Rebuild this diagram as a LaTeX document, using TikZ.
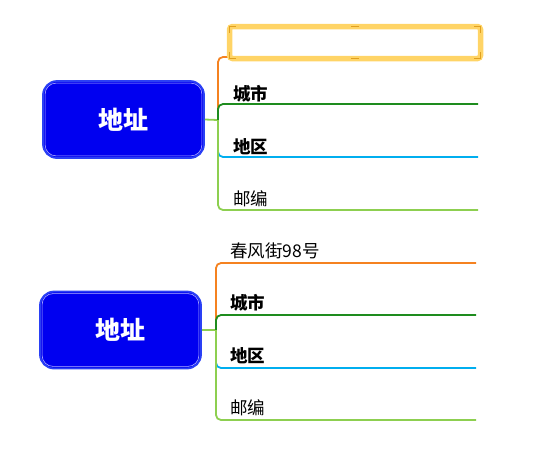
\documentclass[tikz,border=0pt]{standalone}
\usepackage{fontspec}
\setmainfont{Noto Sans CJK SC}
\begin{document}
\begin{tikzpicture}[x=1pt,y=-1pt,
  rootbox/.style={rounded corners=14pt,fill=rootblue,draw=rimblue,line width=1.8pt,
    minimum width=161pt,minimum height=77pt,inner sep=0pt,
    font=\fontsize{25}{27}\selectfont\bfseries,text=white},
  lab/.style={anchor=base west,inner sep=0pt,font=\fontsize{17.5}{19}\selectfont},
  labb/.style={lab,font=\fontsize{17.5}{19}\selectfont\bfseries},
  br/.style={line width=1.8pt,rounded corners=5pt}]
\definecolor{rootblue}{HTML}{0000F0}
\definecolor{rimblue}{HTML}{2A40F5}
\definecolor{cOr}{HTML}{F58220}
\definecolor{cDg}{HTML}{1E8C1E}
\definecolor{cBl}{HTML}{00AEEF}
\definecolor{cLg}{HTML}{8DCF50}
\definecolor{selY}{HTML}{FFD466}
\definecolor{selD}{HTML}{E0A020}
\useasboundingbox (0,0) rectangle (548,451);
% ---------- top group ----------
\node[rootbox] (r1) at (123.5,119.5) {地址};
\draw[white!70!blue,line width=0.6pt,rounded corners=11pt] ([shift={(3,-3)}]r1.south west) rectangle ([shift={(-3,3)}]r1.north east);
\coordinate (j1) at (218,120);
\coordinate (a1) at (478,57);
\coordinate (b1) at (478,104);
\coordinate (c1) at (478,157);
\coordinate (d1) at (478,210);
\draw[cLg,line width=1.8pt] (r1.east) -- (j1);
\draw[br,cOr] (j1) |- (a1);
\draw[br,cDg] (j1) |- (b1);
\draw[br,cBl] (j1) |- (c1);
\draw[br,cLg] (j1) |- (d1);
\node[labb] (l1b) at (233,100) {城市};
\node[labb] (l1c) at (233,153) {地区};
\node[lab] (l1d) at (233,205) {邮编};
% selection box
\node[draw=selY,line width=5.5pt,rounded corners=3pt,minimum width=251pt,minimum height=32pt,inner sep=0pt] (sel) at (355,42.5) {};
\draw[selD,line width=1.2pt] ([shift={(3,9)}]sel.north west) -- ++(0,-6) -- ++(6,0);
\draw[selD,line width=1.2pt] ([shift={(-3,9)}]sel.north east) -- ++(0,-6) -- ++(-6,0);
\draw[selD,line width=1.2pt] ([shift={(3,-9)}]sel.south west) -- ++(0,6) -- ++(6,0);
\draw[selD,line width=1.2pt] ([shift={(-3,-9)}]sel.south east) -- ++(0,6) -- ++(-6,0);
\draw[selD,line width=1.2pt] ([shift={(-4,3)}]sel.north) -- ++(8,0);
\draw[selD,line width=1.2pt] ([shift={(-4,-3)}]sel.south) -- ++(8,0);
% ---------- bottom group ----------
\node[rootbox] (r2) at (120.5,330) {地址};
\draw[white!70!blue,line width=0.6pt,rounded corners=11pt] ([shift={(3,-3)}]r2.south west) rectangle ([shift={(-3,3)}]r2.north east);
\coordinate (j2) at (216,330);
\coordinate (a2) at (476,263);
\coordinate (b2) at (476,315);
\coordinate (c2) at (476,368);
\coordinate (d2) at (476,420);
\draw[cLg,line width=1.8pt] (r2.east) -- (j2);
\draw[br,cOr] (j2) |- (a2);
\draw[br,cDg] (j2) |- (b2);
\draw[br,cBl] (j2) |- (c2);
\draw[br,cLg] (j2) |- (d2);
\node[lab] (l2a) at (230,257) {春风街98号};
\node[labb] (l2b) at (230,309) {城市};
\node[labb] (l2c) at (230,362) {地区};
\node[lab] (l2d) at (230,414) {邮编};
\end{tikzpicture}
\end{document}
